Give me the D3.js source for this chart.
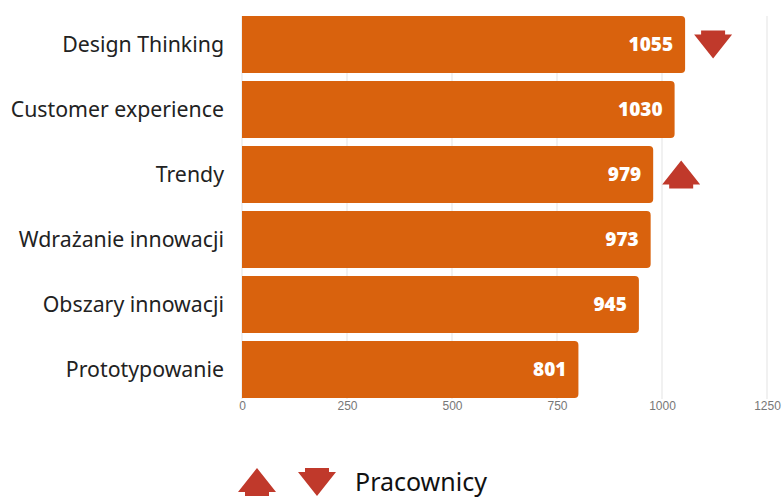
<!DOCTYPE html>
<html>
<head>
<meta charset="utf-8">
<script src="https://cdn.jsdelivr.net/npm/d3@7"></script>
<style>
  html, body { margin: 0; padding: 0; background: #fff; }
  svg { display: block; }
</style>
</head>
<body>
<svg id="chart" width="784" height="497"></svg>
<script>
// Topics and their scores
const categories = ["Design Thinking", "Customer experience", "Trendy", "Wdrażanie innowacji", "Obszary innowacji", "Prototypowanie"];
const values = [1055, 1030, 979, 973, 945, 801];
// Change indicator per topic: "down", "up" or null
const trends = ["down", null, "up", null, null, null];
const xTicks = [0, 250, 500, 750, 1000, 1250];
const legendLabel = "Pracownicy";

const barColor = "#D9620D";
const arrowColor = "#C0392B";

const svg = d3.select("#chart");

const x = d3.scaleLinear().domain([0, 1250]).range([242, 767]);
const y = d3.scaleBand().domain(categories).range([12, 402]).paddingInner(0.123).paddingOuter(0.0615);

// Vertical gridlines
svg.append("g")
  .selectAll("line")
  .data(xTicks.slice(1))
  .join("line")
  .attr("x1", d => x(d)).attr("x2", d => x(d))
  .attr("y1", 16).attr("y2", 399)
  .attr("stroke", "#e3e3e3").attr("stroke-width", 1);

// Axis line at zero
svg.append("line")
  .attr("x1", x(0)).attr("x2", x(0))
  .attr("y1", 16).attr("y2", 399)
  .attr("stroke", "#e3e3e3");

// Bars, rounded on the right end only
const r = 4;
function barPath(d, i) {
  const x0 = x(0), x1 = x(d), y0 = y(categories[i]), h = y.bandwidth();
  return `M${x0},${y0}H${x1 - r}Q${x1},${y0} ${x1},${y0 + r}V${y0 + h - r}Q${x1},${y0 + h} ${x1 - r},${y0 + h}H${x0}Z`;
}
svg.append("g")
  .selectAll("path")
  .data(values)
  .join("path")
  .attr("d", barPath)
  .attr("fill", barColor);

// Value labels inside bars
svg.append("g")
  .selectAll("text")
  .data(values)
  .join("text")
  .attr("x", d => x(d) - 12)
  .attr("y", (d, i) => y(categories[i]) + y.bandwidth() / 2)
  .attr("dy", "0.35em")
  .attr("text-anchor", "end")
  .attr("fill", "#fff")
  .attr("font-family", "'Open Sans', sans-serif")
  .attr("font-weight", 800)
  .attr("font-size", 19)
  .text(d => d);

// Category labels
svg.append("g")
  .selectAll("text")
  .data(categories)
  .join("text")
  .attr("x", 224)
  .attr("y", d => y(d) + y.bandwidth() / 2)
  .attr("dy", "0.35em")
  .attr("text-anchor", "end")
  .attr("fill", "#222")
  .attr("font-family", "'Noto Sans', sans-serif")
  .attr("font-size", 21.3)
  .text(d => d);

// Bottom axis tick labels
const axis = d3.axisBottom(x).tickValues(xTicks).tickFormat(d3.format("d")).tickSize(0).tickPadding(0);
const gAxis = svg.append("g").attr("transform", "translate(0,401)").call(axis);
gAxis.select(".domain").remove();
gAxis.selectAll("text")
  .attr("fill", "#777")
  .attr("font-family", "'Liberation Sans', Arial, sans-serif")
  .attr("font-size", 12)
  .attr("dy", "0.71em");

// Arrow shapes: triangle with a short stub on the base
function arrowPath(dir, cx, cy) {
  const w = 38, th = 24, sw = 24, sh = 4;
  if (dir === "up") {
    const tip = cy - (th + sh) / 2, base = tip + th;
    return `M${cx},${tip}L${cx + w / 2},${base}H${cx + sw / 2}V${base + sh}H${cx - sw / 2}V${base}H${cx - w / 2}Z`;
  } else {
    const top = cy - (th + sh) / 2, base = top + sh;
    return `M${cx - sw / 2},${top}H${cx + sw / 2}V${base}H${cx + w / 2}L${cx},${base + th}L${cx - w / 2},${base}H${cx - sw / 2}Z`;
  }
}

svg.append("g")
  .selectAll("path")
  .data(values.map((v, i) => ({ v, i, t: trends[i] })).filter(d => d.t))
  .join("path")
  .attr("d", d => arrowPath(d.t, x(d.v) + 28, y(categories[d.i]) + y.bandwidth() / 2))
  .attr("fill", arrowColor);

// Legend
const legend = svg.append("g");
legend.append("path").attr("d", arrowPath("up", 257, 482)).attr("fill", arrowColor);
legend.append("path").attr("d", arrowPath("down", 317, 482)).attr("fill", arrowColor);
legend.append("text")
  .attr("x", 355).attr("y", 491)
  .attr("fill", "#111")
  .attr("font-family", "'Noto Sans', sans-serif")
  .attr("font-size", 25)
  .text(legendLabel);
</script>
</body>
</html>
